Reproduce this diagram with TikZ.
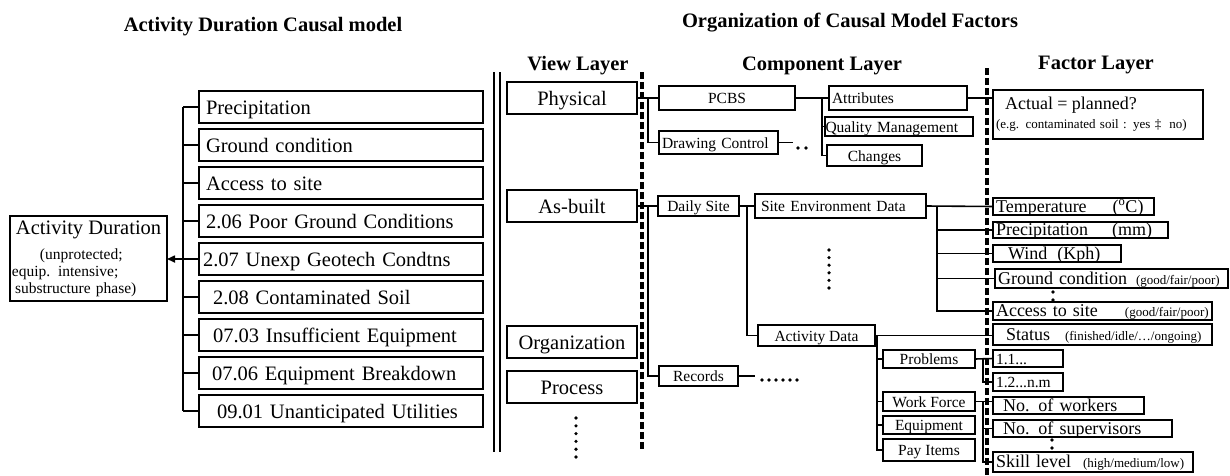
\documentclass[tikz,border=0pt]{standalone}
\usepackage{fontspec}
\setmainfont{Liberation Serif}
\usetikzlibrary{positioning,arrows.meta}

\newcommand\fsbig{\fontsize{20.5}{23}\selectfont}
\newcommand\fsmid{\fontsize{18}{20}\selectfont}
\newcommand\fssmall{\fontsize{15.5}{17}\selectfont}
\newcommand\fstiny{\fontsize{13}{15}\selectfont}

\begin{document}
\begin{tikzpicture}[x=1pt, y=-1pt,
		box/.style = {draw, rectangle, line width=1.6pt, inner sep=0pt, outer sep=0pt},
		bg/.style = {font=\fsbig, text height=15pt, text depth=0pt},
		md/.style = {font=\fsmid, text height=13.5pt, text depth=2pt},
		sm/.style = {font=\fssmall, text height=11pt, text depth=0pt},
		cbox/.style = {box, anchor=north west, sm},
		lbox/.style = {box, anchor=north west, align=left, inner xsep=3pt},
		cause/.style = {box, bg, align=left, text width=270pt,
			inner xsep=7pt, minimum height=32pt},
		view/.style = {cbox, bg, minimum width=130pt, minimum height=32pt},
		conn/.style = {line width=1.6pt},
		layersep/.style = {line width=3.6pt, line cap=butt, dash pattern=on 7pt off 3pt},
		head/.style = {font=\fsbig\bfseries, anchor=base}
		]
		\useasboundingbox (0,0) rectangle (1230,475);

		\node[head] (t-model) at (263,31) {Activity Duration Causal model};
		\node[head] (t-org) at (850,27) {Organization of Causal Model Factors};
		\node[head] (t-view) at (578,70) {View Layer};
		\node[head] (t-comp) at (822,70) {Component Layer};
		\node[head] (t-fact) at (1096,69) {Factor Layer};

		% causal model
		\node[box, anchor=north west, minimum height=85pt, align=left,
			text width=153pt, inner xsep=2pt, font=\fssmall] (dur) at (10,216)
			{\hspace*{4pt}{\fsbig Activity Duration}\\[8pt]
			\hspace*{28pt}(unprotected;\\
			equip. intensive;\\
			\hspace*{3pt}substructure phase)};

		\node[cause, anchor=north west] (prec) at (199,91) {Precipitation};
		\node[cause, below=6pt of prec] (gcond) {Ground condition};
		\node[cause, below=6pt of gcond] (site) {Access to site};
		\node[cause, below=6pt of site] (c206) {2.06 Poor Ground Conditions};
		\node[cause, below=6pt of c206] (c207) {\hspace*{-3pt}2.07 Unexp Geotech Condtns};
		\node[cause, below=6pt of c207] (c208) {\hspace*{7pt}2.08 Contaminated Soil};
		\node[cause, below=6pt of c208] (c0703) {\hspace*{7pt}07.03 Insufficient Equipment};
		\node[cause, below=6pt of c0703] (c0706) {\hspace*{6pt}07.06 Equipment Breakdown};
		\node[cause, below=6pt of c0706] (c0901) {\hspace*{11pt}09.01 Unanticipated Utilities};

		\coordinate (lbus) at (183,0);
		\foreach \c in {prec,gcond,site,c206,c207,c208,c0703,c0706,c0901}
			\draw[conn] (\c.west) -- (\c.west -| lbus);
		\draw[conn] (prec.west -| lbus) -- (c0901.west -| lbus);
		\draw[conn, -{Triangle[length=8pt, width=7pt]}] (c207.west -| lbus) -- (c207.west -| dur.east);

		% layers
		\draw[line width=1.3pt] (494,72) -- (494,452);
		\draw[line width=1.3pt] (500,72) -- (500,452);
		\draw[layersep] (642,72) -- (642,450);
		\draw[layersep] (987,68) -- (987,475);

		\node[view] (phys) at (507,82) {Physical};
		\node[view] (asbuilt) at (507,190) {As-built};
		\node[view] (orgn) at (507,326) {Organization};
		\node[view] (proc) at (507,371) {Process};
		\foreach \i in {0,...,5}
			\fill (576,418+7.8*\i) circle (1.8pt);

		\node[cbox, minimum width=136pt, minimum height=24pt] (pcbs) at (659,86) {PCBS};
		\node[lbox, sm, text width=113pt, minimum height=23pt] (drawctl) at (659,131) {Drawing Control};
		\node[lbox, sm, text width=132pt, minimum height=24pt] (attr) at (829,86) {Attributes};
		\node[lbox, sm, text width=147pt, inner xsep=0.5pt, minimum height=19pt] (qm) at (825,117) {Quality Management};
		\node[cbox, minimum width=95pt, minimum height=21pt] (chg) at (827,145) {Changes};
		\node[cbox, minimum width=81pt, minimum height=20pt] (daily) at (658,196) {Daily Site};
		\node[lbox, sm, text width=159pt, inner xsep=6pt, minimum height=24pt] (sed) at (755,194) {Site Environment Data};
		\node[cbox, minimum width=117pt, minimum height=21pt] (actd) at (758,325) {Activity Data};
		\node[cbox, minimum width=79pt, minimum height=20pt] (rec) at (659,366) {Records};
		\node[cbox, minimum width=92pt, minimum height=18pt] (prob) at (883,350) {Problems};
		\node[cbox, minimum width=92pt, minimum height=19pt] (wf) at (883,392) {Work Force};
		\node[cbox, minimum width=92pt, minimum height=18pt] (equip) at (883,416) {Equipment};
		\node[cbox, minimum width=92pt, minimum height=22pt] (pay) at (883,439) {Pay Items};

		\node[lbox, font=\fstiny, text width=204pt, minimum height=49pt] (actual) at (993,90)
			{{\fsmid\hspace*{9pt}Actual = planned?}\\[4pt]
			(e.g. contaminated soil : yes ‡\hspace{8pt}no)};
		\node[lbox, md, text width=155pt, minimum height=17pt] (temp) at (993,198) {Temperature\hspace{26pt}(\textsuperscript{o}C)};
		\node[lbox, md, text width=169pt, minimum height=16pt] (precf) at (993,222) {Precipitation\hspace{24pt}(mm)};
		\node[lbox, md, text width=122pt, minimum height=17pt] (wind) at (993,245) {\hspace*{12pt}Wind\hspace{10pt}(Kph)};
		\node[lbox, md, text width=227pt, minimum height=19pt] (gcf) at (995,269) {Ground condition\hspace{9pt}{\fstiny (good/fair/poor)}};
		\node[lbox, md, text width=213pt, minimum height=18pt] (accf) at (993,302) {Access to site\hspace{27pt}{\fstiny (good/fair/poor)}};
		\node[lbox, md, text width=213pt, minimum height=21pt] (status) at (993,324) {\hspace*{10pt}Status\hspace{15pt}{\fstiny (finished/idle/…/ongoing)}};
		\node[lbox, sm, text width=64pt, minimum height=17pt] (p11) at (993,350) {1.1...};
		\node[lbox, sm, text width=64pt, minimum height=18pt] (p12) at (993,373) {1.2...n.m};
		\node[lbox, md, text width=145pt, minimum height=17pt] (nwork) at (993,397) {\hspace*{7pt}No. of workers};
		\node[lbox, md, text width=173pt, minimum height=17pt] (nsup) at (993,420) {\hspace*{7pt}No. of supervisors};
		\node[lbox, md, text width=194pt, minimum height=20pt] (skill) at (993,452) {Skill level\hspace{12pt}{\fstiny (high/medium/low)}};

		\draw[conn] (phys.east) -- (pcbs.west);
		\draw[conn] (phys.east) ++(11,0) |- (drawctl.west);
		\draw[conn] (drawctl.east) -- ++(15,0);
		\fill (798,148) circle (1.8pt) (806,148) circle (1.8pt);
		\draw[conn] (pcbs.east) -- (attr.west);
		\draw[conn] (pcbs.east) ++(27,0) |- (qm.west);
		\draw[conn] (pcbs.east) ++(27,0) |- (chg.west);
		\draw[conn] (attr.east) -- (attr.east -| actual.west);

		\draw[conn] (asbuilt.east) -- (daily.west);
		\draw[conn] (asbuilt.east) ++(11,0) |- (rec.west);
		\draw[conn] (rec.east) -- ++(17,0);
		\foreach \i in {0,...,5}
			\fill (762+7*\i,380) circle (1.8pt);
		\draw[conn] (daily.east) -- (sed.west);
		\draw[conn] (daily.east) ++(8,0) |- (actd.west);
		\foreach \i in {0,...,5}
			\fill (829,250+7.6*\i) circle (1.8pt);
		\draw[conn] (sed.east) -- (temp.west);
		\foreach \f in {precf,wind,gcf,accf}
			\draw[conn] (sed.east) ++(11,0) |- (\f.west);
		\fill (1053,292) circle (1.8pt) (1053,300) circle (1.8pt);

		\draw[conn] (actd.east) -- (actd.east -| status.west);
		\foreach \c in {prob,wf,equip,pay}
			\draw[conn] (actd.east) ++(2,0) |- (\c.west);
		\draw[conn] (prob.east) -- (p11.west);
		\draw[conn] (prob.east) ++(8,0) |- (p12.west);
		\draw[conn] (wf.east) -- (wf.east -| nwork.west);
		\draw[conn] (wf.east) ++(8,0) |- (nsup.west);
		\draw[conn] (wf.east) ++(8,0) |- (skill.west);
		\fill (1052,440) circle (1.8pt) (1052,448) circle (1.8pt);
	\end{tikzpicture}
\end{document}
